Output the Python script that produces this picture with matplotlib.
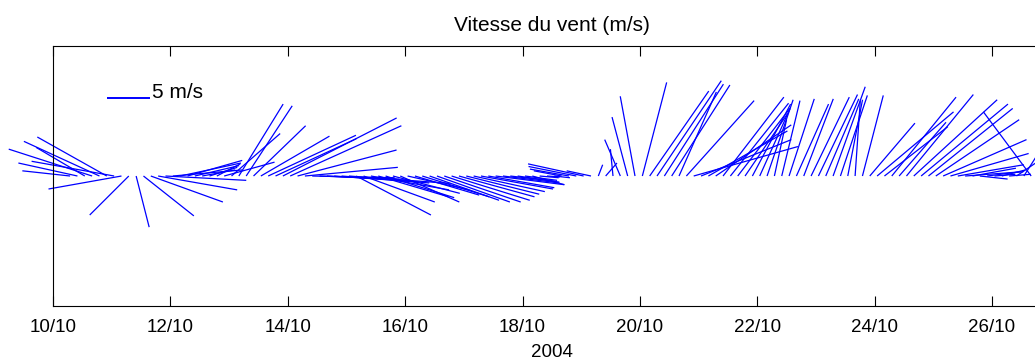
import datetime as dt
import matplotlib
matplotlib.use('Agg')
import matplotlib.pyplot as plt
import matplotlib.dates as mdates
from matplotlib.collections import LineCollection

plt.rcParams['font.family'] = ['Liberation Sans', 'DejaVu Sans']

# ======== data: 3-hourly wind components (m/s) ========
start = dt.datetime(2004, 10, 10, 7)      # first sample
step_h = 3                                # sampling interval (hours)

u = [-5.5, -6.8, -5.6, -9.6, -8.7, -8.0, -9.5, -8.4, -4.5, 1.5,
     5.8, 8.3, 9.1, 9.3, 8.0, 7.0, 6.3, 5.1, 3.8, 3.2,
     2.7, 5.8, 5.6, 5.1, 5.3, 6.0, 7.9, 10.1, 9.3, 13.1,
     12.8, 11.4, 10.7, 9.5, 9.2, 9.5, 9.8, 10.1, 11.6, 8.6,
     8.2, 9.0, 8.1, 7.9, 7.7, 6.8, 7.1, 7.4, 7.7, 8.0,
     8.4, 8.8, 9.0, 8.7, 8.4, 8.2, 8.3, 7.6, 7.9, 6.5,
     5.1, 4.8, 3.7, 3.7, 2.2, 1.5, 1.8, -3.2, -4.5, -5.5,
     -6.4, -2.8, 0.5, 1.3, -0.3, -1.8, -1.8, -1.7, 2.8, 6.8,
     7.4, 6.8, 6.7, 4.3, 7.8, 12.0, 10.4, 9.1, 8.7, 7.0,
     6.7, 6.0, 4.9, 4.4, 3.5, 3.0, 1.4, 2.1, 2.9, 3.7,
     3.4, 4.4, 4.5, 3.8, 3.7, 3.1, 1.7, 0.6, 2.4, 5.2,
     8.8, 7.3, 7.4, 5.4, 7.7, 9.6, 10.0, 9.7, 9.6, 9.6,
     9.0, 7.6, 6.7, 5.0, 3.2, 3.9, 2.4, 2.7, 2.5, 2.2,
     1.4, -5.5]
v = [0.6, 1.5, 3.3, 3.1, 4.0, 4.5, 1.7, -1.5, -4.5, -5.9,
     -4.6, -3.0, -1.6, -0.5, 0.7, 1.5, 1.8, 1.2, 0.7, 1.0,
     1.4, 1.6, 4.9, 8.3, 8.1, 5.8, 4.6, 4.7, 4.3, 6.7,
     5.8, 3.0, 1.0, -0.2, -0.35, -0.5, -0.7, -0.8, -0.85, -4.5,
     -3.0, -1.6, -2.4, -2.5, -2.0, -3.0, -1.6, -2.2, -2.4, -2.8,
     -3.0, -3.0, -2.8, -2.4, -2.1, -1.8, -1.5, -1.35, -1.0, -0.8,
     -0.6, -0.7, -0.5, -1.0, -0.2, -0.1, -0.2, 0.6, 0.8, 1.1,
     1.4, 0.6, 1.3, 1.5, 3.1, 4.2, 6.8, 9.2, 10.8, 9.8,
     11.0, 10.6, 10.5, 9.7, 8.7, 3.4, 4.2, 5.2, 5.9, 9.1,
     8.4, 7.8, 7.2, 8.3, 7.8, 8.8, 6.5, 8.7, 8.9, 8.3,
     8.9, 9.1, 9.4, 8.9, 10.3, 9.3, 8.8, 8.7, 9.3, 6.1,
     7.4, 5.7, 9.1, 6.2, 9.4, 8.8, 8.3, 7.8, 6.5, 4.2,
     2.6, 1.3, 0.5, 0.9, -0.35, 0.5, 0.2, 0.7, 0.2, 1.5,
     2.2, 7.4]

tick_days = [10, 12, 14, 16, 18, 20, 22, 24, 26]
ref_speed = 5                               # legend stick (m/s)

# ======== figure ========
fig = plt.figure(figsize=(10.35, 3.64), dpi=100)
# axes run past the right border (original figure was cropped)
ax = fig.add_axes([0.0512, 0.1593, 0.964, 0.7143])

scale = 0.148   # days per m/s so that sticks keep their true direction

times = [start + dt.timedelta(hours=step_h * i) for i in range(len(u))]
x0 = mdates.date2num(times)
segs = [[(x, 0), (x + ui * scale, vi)] for x, ui, vi in zip(x0, u, v)]
lc = LineCollection(segs, colors='#0000ff', linewidths=0.9, clip_on=False)
ax.add_collection(lc)

# scale stick
lx = mdates.date2num(dt.datetime(2004, 10, 10)) + 0.92
ax.plot([lx, lx + ref_speed * scale], [9, 9], color='#0000ff', lw=1.4,
        solid_capstyle='butt')
ax.text(lx + ref_speed * scale + 0.02, 9, f'{ref_speed} m/s', fontsize=15,
        va='baseline', ha='left')

# ======== axes ========
ax.set_xlim(mdates.date2num(dt.datetime(2004, 10, 10)),
            mdates.date2num(dt.datetime(2004, 10, 27)))
ax.set_ylim(-15, 15)
ax.set_xticks([mdates.date2num(dt.datetime(2004, 10, d)) for d in tick_days])
ax.set_xticklabels([f'{d}/10' for d in tick_days])
ax.set_yticks([])
ax.tick_params(axis='x', direction='in', top=True, length=7, width=0.8,
               pad=9, labelsize=13.5)
for s in ax.spines.values():
    s.set_linewidth(0.8)

ax.set_xlabel('2004', fontsize=13.5, labelpad=6)
ax.set_title('Vitesse du vent (m/s)', fontsize=15, pad=11)

fig.savefig('out.png', dpi=100)
